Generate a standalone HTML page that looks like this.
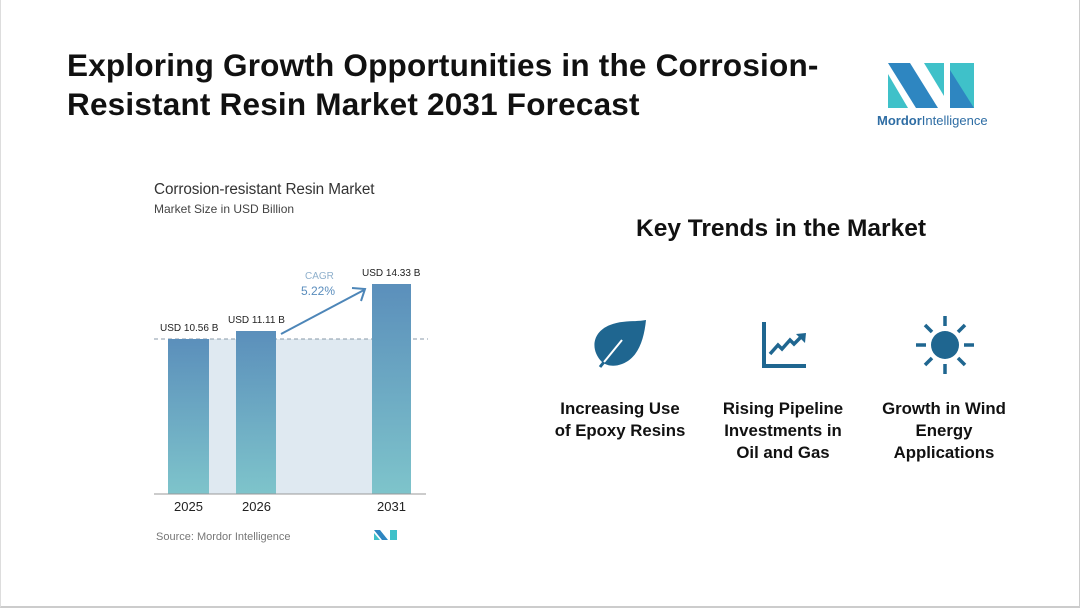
<!DOCTYPE html>
<html><head><style>
body{margin:0;width:1080px;height:613px;background:#fff;font-family:"Liberation Sans",sans-serif;position:relative;overflow:hidden}
.a{position:absolute;white-space:nowrap}
</style></head><body>
<div class="a" style="left:0;top:0;width:1078px;height:606px;border-right:1px solid #ccc;border-bottom:2px solid #ccc;border-left:1px solid #ddd"></div>
<div class="a" style="left:67px;top:46px;font-size:31.5px;font-weight:bold;line-height:39px;color:#111;letter-spacing:0.2px">Exploring Growth Opportunities in the Corrosion-<br>Resistant Resin Market 2031 Forecast</div>
<svg class="a" style="left:880px;top:60px" width="100" height="50">
<polygon points="8,3 30,3 58,48 36,48" fill="#2e86c1"/>
<polygon points="8,14 28,48 8,48" fill="#3fc1c9"/>
<polygon points="44,3 64,3 64,36" fill="#3fc1c9"/>
<polygon points="70,3 94,3 94,48 70,48" fill="#3fc1c9"/>
<polygon points="70,10 94,48 70,48" fill="#2e86c1"/>
</svg>
<div class="a" style="left:877px;top:113px;font-size:13px;color:#2e6da4"><b>Mordor</b>Intelligence</div>
<div class="a" style="left:154px;top:181px;font-size:15.3px;color:#333;font-weight:500;letter-spacing:-0.1px">Corrosion-resistant Resin Market</div>
<div class="a" style="left:154px;top:202px;font-size:12px;color:#444">Market Size in USD Billion</div>
<svg class="a" style="left:0;top:0" width="540" height="613">
<defs><linearGradient id="g" x1="0" y1="0" x2="0" y2="1"><stop offset="0" stop-color="#5b8fbb"/><stop offset="1" stop-color="#7ec4cb"/></linearGradient></defs>
<rect x="209" y="339" width="163" height="155" fill="#dfe9f1"/>
<line x1="154" y1="339" x2="428" y2="339" stroke="#8a9aa8" stroke-dasharray="4,3"/>
<rect x="168" y="339" width="41" height="155" fill="url(#g)"/>
<rect x="236" y="331" width="40" height="163" fill="url(#g)"/>
<rect x="372" y="284" width="39" height="210" fill="url(#g)"/>
<line x1="154" y1="494" x2="426" y2="494" stroke="#999"/>
<line x1="281" y1="334" x2="364" y2="290" stroke="#4d86b8" stroke-width="2"/>
<polyline points="352,288 365,289 361,301" fill="none" stroke="#4d86b8" stroke-width="2"/>
<g font-family="Liberation Sans" font-size="10" fill="#222">
<text x="160" y="331">USD 10.56 B</text>
<text x="228" y="323">USD 11.11 B</text>
<text x="362" y="276">USD 14.33 B</text>
</g>
<text x="305" y="279" font-family="Liberation Sans" font-size="10" fill="#8fb0cc">CAGR</text>
<text x="301" y="295" font-family="Liberation Sans" font-size="12" fill="#5a8dbd">5.22%</text>
<g font-family="Liberation Sans" font-size="13" fill="#222">
<text x="174" y="511">2025</text><text x="242" y="511">2026</text><text x="377" y="511">2031</text>
</g>
<text x="156" y="540" font-family="Liberation Sans" font-size="11" fill="#777">Source: Mordor Intelligence</text>
<polygon points="374,530 380,530 388,540 382,540" fill="#2e86c1"/>
<polygon points="374,533 380,540 374,540" fill="#3fc1c9"/>
<polygon points="390,530 397,530 397,540 390,540" fill="#3fc1c9"/>
</svg>
<div class="a" style="left:636px;top:215px;font-size:24.5px;font-weight:bold;color:#111">Key Trends in the Market</div>
<svg class="a" style="left:580px;top:300px" width="420" height="90" fill="#1f6690" stroke="#1f6690">
<path d="M22,62 C10,50 12,32 30,25 C42,20 56,22 66,20 C64,40 58,58 42,64 C34,67 27,66 22,62 Z" stroke="none"/>
<line x1="20" y1="67" x2="42" y2="40" stroke="#fff" stroke-width="2"/>
<line x1="20" y1="67" x2="24" y2="62" stroke-width="3"/>
<polyline points="184,22 184,66 226,66" fill="none" stroke-width="4"/>
<polyline points="190,54 198,45 202,49 210,40 214,44 222,36" fill="none" stroke-width="3.5"/>
<polygon points="216,34 226,33 225,43" stroke="none"/>
<circle cx="365" cy="45" r="14" stroke="none"/>
<g stroke-width="3.5">
<line x1="365" y1="16" x2="365" y2="26"/><line x1="365" y1="64" x2="365" y2="74"/>
<line x1="336" y1="45" x2="346" y2="45"/><line x1="384" y1="45" x2="394" y2="45"/>
<line x1="345" y1="25" x2="352" y2="32"/><line x1="378" y1="58" x2="385" y2="65"/>
<line x1="385" y1="25" x2="378" y2="32"/><line x1="352" y1="58" x2="345" y2="65"/>
</g>
</svg>
<div class="a" style="left:535px;top:398px;width:170px;text-align:center;font-size:16.8px;font-weight:bold;line-height:22px;color:#111">Increasing Use<br>of Epoxy Resins</div>
<div class="a" style="left:698px;top:398px;width:170px;text-align:center;font-size:16.8px;font-weight:bold;line-height:22px;color:#111">Rising Pipeline<br>Investments in<br>Oil and Gas</div>
<div class="a" style="left:859px;top:398px;width:170px;text-align:center;font-size:16.8px;font-weight:bold;line-height:22px;color:#111">Growth in Wind<br>Energy<br>Applications</div>
</body></html>
